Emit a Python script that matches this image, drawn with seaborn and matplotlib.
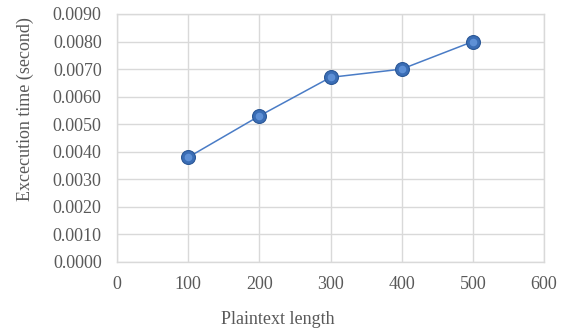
import matplotlib
matplotlib.use("Agg")
import matplotlib.pyplot as plt
import seaborn as sns
import pandas as pd
from matplotlib.ticker import FormatStrFormatter, MultipleLocator

lengths = [100, 200, 300, 400, 500]
times = [0.0038, 0.0053, 0.0067, 0.0070, 0.0080]
x_label = "Plaintext length"
y_label = "Excecution time (second)"

sns.set_style("white")
plt.rcParams['font.family'] = ['Liberation Serif', 'DejaVu Serif']

df = pd.DataFrame({"len": lengths, "t": times})

fig = plt.figure(figsize=(5.64, 3.32), dpi=100)
ax = fig.add_axes([117/564, 1-262/332, (544-117)/564, (262-14)/332])

sns.lineplot(data=df, x="len", y="t", ax=ax, color="#4A7CC6", linewidth=1.1,
             marker="o", markersize=10, markerfacecolor="#3A6DB5",
             markeredgecolor="#2A5796", markeredgewidth=0.8, zorder=3)
ax.plot(df["len"], df["t"], linestyle="none", marker="o", markersize=5.5,
        markerfacecolor="#5E90D6", markeredgewidth=0, zorder=4)

ax.set_xlim(0, 600)
ax.set_ylim(0, 0.009)
ax.xaxis.set_major_locator(MultipleLocator(100))
ax.yaxis.set_major_locator(MultipleLocator(0.001))
ax.yaxis.set_major_formatter(FormatStrFormatter("%.4f"))
ax.grid(True, color="#D9D9D9", linewidth=1.0)
ax.set_axisbelow(True)
for s in ax.spines.values():
    s.set_color("#D9D9D9")
    s.set_linewidth(1.0)
ax.tick_params(axis="both", length=0, labelsize=13, labelcolor="#595959")
ax.tick_params(axis="y", pad=11)
ax.tick_params(axis="x", pad=10)
ax.set_xlabel(x_label, fontsize=13, color="#595959")
ax.set_ylabel(y_label, fontsize=13, color="#595959")
ax.xaxis.set_label_coords((277.5 - 117) / 427, (262 - 311) / 248)
ax.yaxis.set_label_coords((34 - 117) / 427, (262 - 109) / 248)

fig.savefig("out.png", dpi=100)
